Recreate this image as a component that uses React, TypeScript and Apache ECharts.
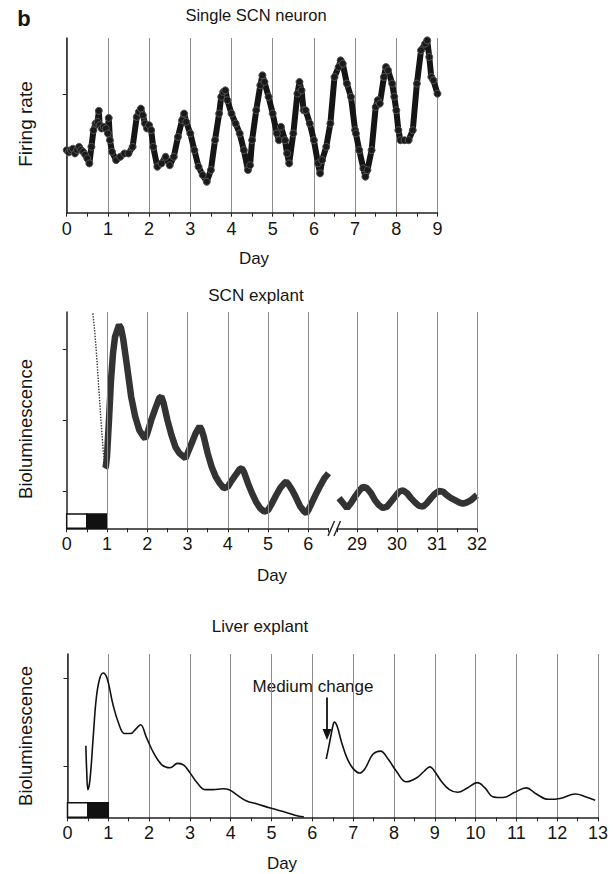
import React, { useEffect, useRef } from "react";
import * as echarts from "echarts";

// ---- Panel 1: Single SCN neuron (firing rate, arbitrary units) ----
const neuronDay = [0,0.05,0.1,0.15,0.2,0.25,0.3,0.35,0.4,0.45,0.5,0.55,0.6,0.65,0.7,0.75,0.78,0.8,0.85,0.9,0.95,1.0,1.02,1.05,1.1,1.2,1.3,1.4,1.5,1.6,1.7,1.75,1.8,1.85,1.9,1.95,2.0,2.05,2.1,2.2,2.3,2.4,2.5,2.6,2.7,2.8,2.85,2.9,3.0,3.1,3.2,3.3,3.4,3.5,3.6,3.7,3.75,3.8,3.85,3.9,4.0,4.1,4.2,4.3,4.4,4.45,4.5,4.6,4.7,4.75,4.8,4.9,5.0,5.1,5.15,5.2,5.3,5.35,5.4,5.5,5.6,5.65,5.7,5.75,5.8,5.9,6.0,6.1,6.15,6.2,6.3,6.4,6.5,6.6,6.65,6.7,6.8,6.9,7.0,7.02,7.1,7.2,7.25,7.3,7.4,7.5,7.55,7.6,7.7,7.75,7.8,7.9,7.95,8.0,8.05,8.1,8.2,8.3,8.4,8.5,8.6,8.7,8.75,8.8,8.85,8.9,9.0];
const neuronRate = [5.28,5.1,5.28,5.4,5.0,5.3,5.56,5.3,5.14,4.9,4.58,4.16,5.56,6.97,7.53,7.67,8.6,7.39,7.11,7.25,7.11,6.69,8.0,6.12,5.14,4.44,4.72,5.0,5.0,5.56,8.09,8.51,8.79,8.23,7.53,7.11,7.39,6.97,5.56,3.88,4.16,4.72,4.0,4.72,6.4,7.81,8.37,7.67,6.69,5.28,3.88,3.18,2.61,3.6,6.12,8.37,9.78,10.19,10.33,9.5,8.37,7.53,6.69,5.28,3.6,4.0,6.12,8.65,10.76,11.6,11.04,9.78,8.37,6.69,6.12,7.25,6.12,5.0,4.16,6.69,10.05,11.04,10.33,8.65,8.65,7.53,6.12,4.16,3.32,4.44,5.56,7.53,11.46,12.3,12.86,12.58,10.9,9.78,6.97,6.69,5.28,3.74,3.04,3.6,5.28,8.93,9.5,9.21,11.46,12.3,12.02,10.9,9.8,8.65,6.97,6.12,6.12,6.12,6.97,10.9,13.71,14.27,14.55,13.15,11.46,11.18,10.05];

// ---- Panel 2: SCN explant bioluminescence ----
const scnEarlyDay = [0.65,0.7,0.75,0.8,0.85,0.9,0.95];
const scnEarlyLum = [3.5,3.22,2.85,2.42,2.0,1.62,1.32];
const scnDayA = [0.95,0.97,1.0,1.05,1.1,1.15,1.2,1.3,1.35,1.4,1.5,1.6,1.7,1.8,1.9,1.95,2.0,2.1,2.2,2.3,2.35,2.4,2.5,2.6,2.7,2.8,2.95,3.0,3.1,3.2,3.3,3.35,3.4,3.5,3.6,3.7,3.8,3.9,4.0,4.1,4.2,4.3,4.35,4.4,4.5,4.6,4.7,4.8,4.9,5.0,5.1,5.2,5.3,5.4,5.45,5.5,5.6,5.7,5.8,5.9,5.95,6.0,6.1,6.2,6.3,6.4,6.5];
const scnLumA = [1.32,1.34,1.48,2.0,2.56,2.94,3.17,3.34,3.29,3.15,2.75,2.33,2.05,1.86,1.77,1.74,1.81,2.0,2.16,2.31,2.33,2.25,2.0,1.79,1.62,1.53,1.46,1.53,1.67,1.81,1.91,1.86,1.77,1.53,1.34,1.2,1.11,1.04,1.06,1.15,1.23,1.31,1.32,1.27,1.11,0.97,0.85,0.76,0.71,0.73,0.83,0.94,1.04,1.11,1.13,1.1,1.01,0.9,0.78,0.71,0.69,0.73,0.85,0.97,1.08,1.18,1.25];
const scnDayB = [28.55,28.65,28.75,28.85,28.95,29.05,29.15,29.25,29.35,29.45,29.55,29.65,29.75,29.85,29.95,30.05,30.15,30.25,30.35,30.45,30.55,30.65,30.75,30.85,30.95,31.05,31.15,31.25,31.35,31.45,31.55,31.65,31.75,31.85,31.95,32.0];
const scnLumB = [0.9,0.83,0.76,0.83,0.92,1.0,1.06,1.04,0.97,0.87,0.8,0.76,0.78,0.85,0.92,0.99,1.01,0.97,0.9,0.84,0.79,0.78,0.83,0.9,0.96,1.0,0.99,0.94,0.9,0.87,0.84,0.82,0.84,0.87,0.92,0.94];

// ---- Panel 3: Liver explant bioluminescence ----
const liverDayA = [0.45,0.47,0.5,0.55,0.63,0.7,0.78,0.87,0.97,1.11,1.25,1.4,1.54,1.69,1.79,1.93,2.12,2.32,2.51,2.7,2.85,2.99,3.19,3.38,3.57,3.81,3.96,4.15,4.39,4.63,4.97,5.36,5.65,5.79];
const liverLumA = [1.23,0.95,0.73,0.84,1.33,1.75,1.98,2.06,2.0,1.71,1.49,1.37,1.37,1.43,1.47,1.33,1.14,1.01,0.98,1.03,1.01,0.93,0.8,0.73,0.73,0.74,0.73,0.67,0.6,0.57,0.52,0.47,0.43,0.42];
const liverDayB = [6.34,6.42,6.5,6.54,6.61,6.71,6.85,7.0,7.16,7.29,7.48,7.67,7.87,8.06,8.3,8.54,8.74,8.88,8.98,9.17,9.36,9.56,9.8,10.04,10.23,10.42,10.67,10.96,11.24,11.49,11.78,12.07,12.45,12.69,12.93];
const liverLumB = [1.08,1.26,1.45,1.5,1.45,1.28,1.09,0.97,0.92,0.97,1.13,1.17,1.07,0.94,0.82,0.86,0.94,0.99,0.95,0.82,0.73,0.7,0.75,0.81,0.75,0.65,0.64,0.7,0.75,0.68,0.62,0.63,0.68,0.65,0.61];

// light/dark bar (days) and annotation
const lightPhase = [0, 0.5];
const darkPhase = [0.5, 1];
const mediumChangeDay = 6.36;
const scnGridDaysA = [1, 2, 3, 4, 5, 6];
const scnGridDaysB = [29, 30, 31, 32];

const FONT = "'Liberation Sans', Arial, Helvetica, sans-serif";
const TXT = "#151515";
const GRIDC = "#8c8c8c";

const zip = (a: number[], b: number[]) => a.map((x, i) => [x, b[i]]);

function xAxisBase(gridIndex: number, min: number, max: number, interval: number, minor: boolean) {
  return {
    type: "value",
    gridIndex,
    min,
    max,
    interval,
    axisLine: { show: true, lineStyle: { color: "#222", width: 1.5 } },
    axisTick: { show: true, inside: false, length: 4, lineStyle: { color: "#222", width: 1 } },
    minorTick: { show: minor, splitNumber: 2, length: 4, lineStyle: { color: "#222", width: 1 } },
    axisLabel: {
      show: true,
      fontSize: 18,
      fontFamily: FONT,
      color: TXT,
      margin: 7,
      formatter: (v: number) => (Number.isInteger(v) ? String(v) : ""),
    },
    splitLine: { show: false },
  };
}

function yAxisBase(gridIndex: number, min: number, max: number, ticks: number[], show: boolean) {
  return {
    type: "value",
    gridIndex,
    min,
    max,
    show,
    axisLine: { show: true, lineStyle: { color: "#222", width: 1.5 } },
    axisTick: { show: true, inside: false, length: 4, customValues: ticks, lineStyle: { color: "#222", width: 1 } },
    axisLabel: { show: false },
    splitLine: { show: false },
  };
}

function text(x: number, y: number, t: string, size = 17, extra: any = {}) {
  return {
    type: "text",
    x,
    y,
    rotation: extra.rotation || 0,
    style: {
      text: t,
      fontSize: size,
      fontFamily: FONT,
      fontWeight: extra.bold ? "bold" : "normal",
      fill: TXT,
      textAlign: "center",
      textVerticalAlign: "middle",
    },
  };
}

const ldArea = (yLow: number, yHigh: number) => [
  [
    { xAxis: lightPhase[0], yAxis: yLow, itemStyle: { color: "#fff", borderColor: "#111", borderWidth: 1.5 } },
    { xAxis: lightPhase[1], yAxis: yHigh },
  ],
  [
    { xAxis: darkPhase[0], yAxis: yLow, itemStyle: { color: "#111", borderColor: "#111", borderWidth: 1.5 } },
    { xAxis: darkPhase[1], yAxis: yHigh },
  ],
];

export default function App() {
  const ref = useRef<HTMLDivElement>(null);
  useEffect(() => {
    const chart = echarts.init(ref.current as HTMLDivElement, null, { renderer: "svg" });
    const p1x = xAxisBase(0, 0, 9, 1, true) as any;
    p1x.splitLine = { show: true, lineStyle: { color: GRIDC, width: 1 } };
    const p3x = xAxisBase(3, 0, 13, 1, true) as any;
    p3x.splitLine = { show: true, lineStyle: { color: GRIDC, width: 1 } };

    const option: any = {
      animation: false,
      backgroundColor: "#fff",
      grid: [
        { left: 66.7, top: 38, width: 370.8, height: 174.7 },
        { left: 66.7, top: 312, width: 261.8, height: 216.3 },
        { left: 337, top: 312, width: 140, height: 216.3 },
        { left: 67.5, top: 654, width: 530.5, height: 163.3 },
      ],
      xAxis: [
        p1x,
        xAxisBase(1, 0, 6.5, 1, true),
        xAxisBase(2, 28.5, 32, 0.5, false),
        p3x,
      ],
      yAxis: [
        yAxisBase(0, 0, 14.75, [10], true),
        yAxisBase(1, 0.475, 3.52, [1, 2, 3], true),
        yAxisBase(2, 0.475, 3.52, [], false),
        yAxisBase(3, 0.415, 2.277, [1, 2], true),
      ],
      series: [
        {
          type: "line",
          xAxisIndex: 0,
          yAxisIndex: 0,
          data: zip(neuronDay, neuronRate),
          lineStyle: { color: "#151515", width: 6 },
          symbol: "circle",
          symbolSize: 7,
          showSymbol: true,
          itemStyle: { color: "#1a1a1a", borderColor: "#555", borderWidth: 1 },
          silent: true,
        },
        {
          type: "line",
          xAxisIndex: 1,
          yAxisIndex: 1,
          data: zip(scnEarlyDay, scnEarlyLum),
          lineStyle: { color: "#333", width: 1.4, type: "dotted" },
          symbol: "none",
          silent: true,
        },
        {
          type: "line",
          xAxisIndex: 1,
          yAxisIndex: 1,
          data: zip(scnDayA, scnLumA),
          lineStyle: { color: "#333", width: 6.5 },
          symbol: "none",
          silent: true,
          markLine: {
            silent: true,
            symbol: "none",
            label: { show: false },
            lineStyle: { color: GRIDC, width: 1, type: "solid" },
            data: scnGridDaysA.map((d) => ({ xAxis: d })),
          },
          markArea: { silent: true, label: { show: false }, data: ldArea(0.475, 0.676) },
        },
        {
          type: "line",
          xAxisIndex: 2,
          yAxisIndex: 2,
          data: zip(scnDayB, scnLumB),
          lineStyle: { color: "#333", width: 6.5 },
          symbol: "none",
          silent: true,
          markLine: {
            silent: true,
            symbol: "none",
            label: { show: false },
            lineStyle: { color: GRIDC, width: 1, type: "solid" },
            data: scnGridDaysB.map((d) => ({ xAxis: d })),
          },
        },
        {
          type: "line",
          xAxisIndex: 3,
          yAxisIndex: 3,
          data: zip(liverDayA, liverLumA),
          smooth: 0.4,
          lineStyle: { color: "#111", width: 1.6 },
          symbol: "none",
          silent: true,
          markArea: { silent: true, label: { show: false }, data: ldArea(0.415, 0.58) },
        },
        {
          type: "line",
          xAxisIndex: 3,
          yAxisIndex: 3,
          data: zip(liverDayB, liverLumB),
          smooth: 0.4,
          lineStyle: { color: "#111", width: 1.6 },
          symbol: "none",
          silent: true,
          markLine: {
            silent: true,
            symbol: ["none", "triangle"],
            symbolSize: [9, 11],
            symbolRotate: 180,
            label: { show: false },
            lineStyle: { color: "#111", width: 1.8, type: "solid" },
            data: [[{ coord: [mediumChangeDay, 1.78] }, { coord: [mediumChangeDay, 1.36] }]],
          },
        },
      ],
      graphic: [
        text(24, 18, "b", 22, { bold: true }),
        text(256, 15, "Single SCN neuron", 16.5),
        text(25, 124, "Firing rate", 19, { rotation: Math.PI / 2 }),
        text(254, 258, "Day", 17),
        text(256, 295, "SCN explant", 17),
        text(25, 429, "Bioluminescence", 18.5, { rotation: Math.PI / 2 }),
        text(272, 575, "Day", 17),
        text(260, 626, "Liver explant", 17),
        text(25, 736, "Bioluminescence", 18.5, { rotation: Math.PI / 2 }),
        text(313, 686, "Medium change", 17),
        text(282, 863, "Day", 17),
        { type: "line", shape: { x1: 328, y1: 536, x2: 334.5, y2: 521 }, style: { stroke: "#222", lineWidth: 1.4 } },
        { type: "line", shape: { x1: 334, y1: 536, x2: 340.5, y2: 521 }, style: { stroke: "#222", lineWidth: 1.4 } },
      ],
    };
    chart.setOption(option);
    return () => chart.dispose();
  }, []);
  return (
    <div
      ref={ref}
      style={{ position: "absolute", left: 0, top: 0, width: 613, height: 874, background: "#fff" }}
    />
  );
}
